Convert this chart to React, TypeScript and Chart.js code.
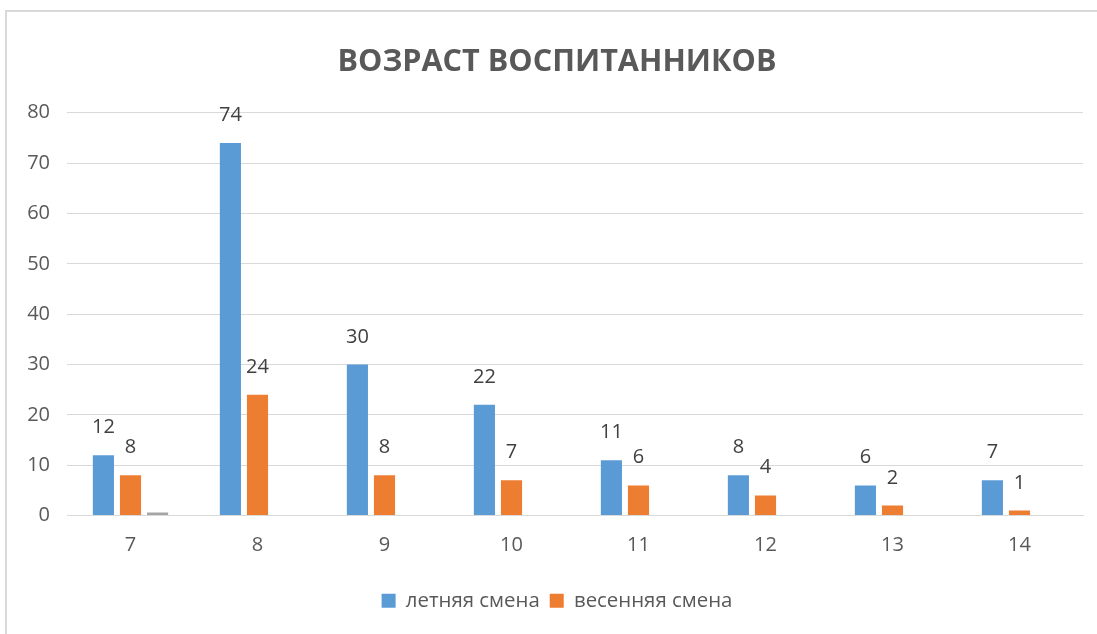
import React, { useEffect, useRef } from "react";
import { Chart, registerables } from "chart.js";

Chart.register(...registerables);

const chartTitle = "ВОЗРАСТ ВОСПИТАННИКОВ";
const categories = ["7", "8", "9", "10", "11", "12", "13", "14"];
const summerLabel = "летняя смена";
const springLabel = "весенняя смена";
const summerShift = [12, 74, 30, 22, 11, 8, 6, 7];
const springShift = [8, 24, 8, 7, 6, 4, 2, 1];
const extraSeries: (number | null)[] = [0.6, null, null, null, null, null, null, null];
const yMin = 0;
const yMax = 80;
const yStep = 10;

const FONT = "'Open Sans', 'DejaVu Sans', sans-serif";

const dataLabelPlugin = {
  id: "dataLabels",
  afterDatasetsDraw(chart: any) {
    const ctx = chart.ctx;
    ctx.save();
    ctx.font = `20px ${FONT}`;
    ctx.fillStyle = "#404040";
    ctx.textAlign = "center";
    ctx.textBaseline = "alphabetic";
    [0, 1].forEach((di) => {
      const meta = chart.getDatasetMeta(di);
      const ds = chart.data.datasets[di];
      meta.data.forEach((bar: any, i: number) => {
        const v = ds.data[i];
        if (v === null || v === undefined) return;
        ctx.fillText(String(v), bar.x, bar.y - 22);
      });
    });
    ctx.restore();
  },
};

// let the y tick labels extend into the left layout padding without being clipped
const unclipYLabels = {
  id: "unclipYLabels",
  afterLayout(chart: any) {
    const y = chart.scales.y;
    if (y) y.left = 0;
  },
};

export default function App() {
  const canvasRef = useRef<HTMLCanvasElement | null>(null);

  useEffect(() => {
    document.body.style.margin = "0";
    const canvas = canvasRef.current!;
    const chart = new Chart(canvas, {
      type: "bar",
      data: {
        labels: categories,
        datasets: [
          {
            label: summerLabel,
            data: summerShift,
            backgroundColor: "#5B9BD5",
            categoryPercentage: 0.64,
            barPercentage: 0.78,
          },
          {
            label: springLabel,
            data: springShift,
            backgroundColor: "#ED7D31",
            categoryPercentage: 0.64,
            barPercentage: 0.78,
          },
          {
            label: "",
            data: extraSeries as any,
            backgroundColor: "#A5A5A5",
            categoryPercentage: 0.64,
            barPercentage: 0.78,
          },
        ],
      },
      options: {
        responsive: false,
        animation: false,
        devicePixelRatio: 1,
        layout: { padding: { left: 31, right: 14, top: 0, bottom: 13 } },
        plugins: {
          title: {
            display: true,
            text: chartTitle,
            color: "#595959",
            font: { family: FONT, size: 30.6, weight: "bold" },
            padding: { top: 44, bottom: 32 },
          },
          legend: {
            position: "bottom",
            labels: {
              color: "#595959",
              font: { family: FONT, size: 20.4 },
              boxWidth: 14,
              boxHeight: 14,
              padding: 10,
              filter: (item: any) => item.datasetIndex < 2,
            },
          },
          tooltip: { enabled: false },
        },
        scales: {
          x: {
            grid: { display: false, drawTicks: false },
            border: { display: true, color: "#d9d9d9", width: 1 },
            ticks: {
              color: "#595959",
              font: { family: FONT, size: 20 },
              padding: 18,
            },
            afterFit: (scale: any) => {
              scale.height += 5;
            },
          },
          y: {
            min: yMin,
            max: yMax,
            grid: { color: "#d9d9d9", lineWidth: 1, drawTicks: false },
            border: { display: false },
            ticks: {
              stepSize: yStep,
              color: "#595959",
              font: { family: FONT, size: 20 },
              padding: 17,
            },
            afterFit: (scale: any) => {
              scale.width = 36;
            },
          },
        },
      },
      plugins: [dataLabelPlugin, unclipYLabels],
    });
    return () => chart.destroy();
  }, []);

  return (
    <div
      style={{
        position: "fixed",
        left: 0,
        top: 0,
        width: 1097,
        height: 634,
        background: "#ffffff",
        overflow: "hidden",
      }}
    >
      <div
        style={{
          position: "absolute",
          left: 5,
          top: 10,
          width: 1200,
          height: 700,
          borderTop: "2px solid #d9d9d9",
          borderLeft: "2px solid #d9d9d9",
        }}
      />
      <canvas
        ref={canvasRef}
        width={1097}
        height={634}
        style={{ position: "absolute", left: 0, top: 0, width: 1097, height: 634 }}
      />
    </div>
  );
}
